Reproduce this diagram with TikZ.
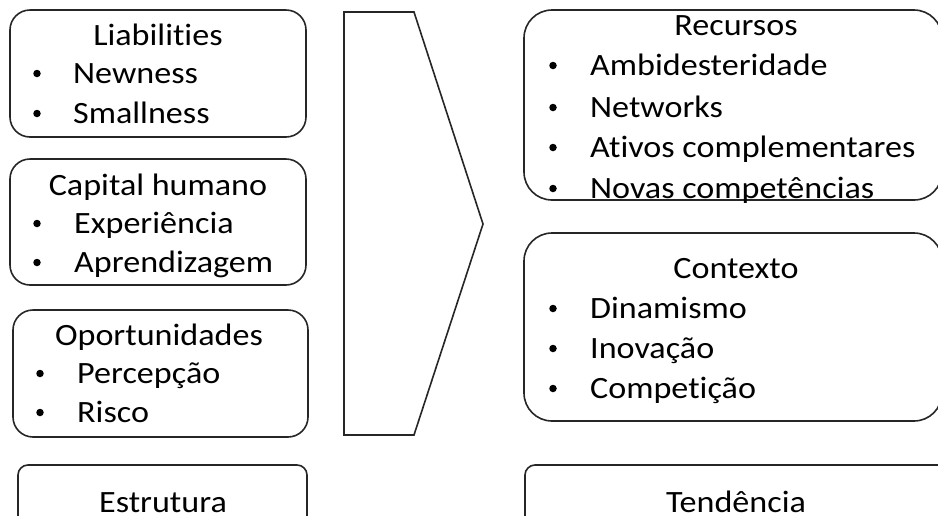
\documentclass[tikz,border=0pt]{standalone}
\usepackage{fontspec}
\setmainfont[Ligatures=NoCommon]{Carlito}
\newcommand\widetext[1]{\scalebox{1.1}[1]{#1}}
\begin{document}
\begin{tikzpicture}[x=1pt,y=-1pt,
  frame/.style={draw=black!85, line width=1.6pt, fill=white},
  boxL/.style={frame, rounded corners=20pt},
  boxR/.style={frame, rounded corners=28pt},
  boxS/.style={frame, rounded corners=10pt},
  txt/.style={inner sep=0pt, font=\fontsize{31}{37}\selectfont, text=black},
  head/.style={txt, anchor=base},
  item/.style={txt, anchor=base west},
  dot/.style={circle, fill=black, inner sep=0pt, minimum size=7.5pt, yshift=9.5pt}
]
\useasboundingbox (0,0) rectangle (938,515);

% rounded frames
\draw[boxL] (10,10) rectangle (306,137);
\draw[boxL] (10,159) rectangle (306,285);
\draw[boxL] (13,310) rectangle (308,437);
\draw[boxS] (18,465) rectangle (307,540);
\draw[boxR] (524,10) rectangle (942,200);
\draw[boxR] (524,233) rectangle (942,421);
\draw[boxS] (525,465) rectangle (950,540);

% central chevron
\draw[frame, line join=miter] (344,12) -- (414,12) -- (483,224) -- (414,435) -- (344,435) -- cycle;

% Liabilities
\node[head] (liab) at (158,45) {\widetext{Liabilities}};
\node[dot] (b11) at (37,83) {};
\node[item] (l11) at (73,83) {\widetext{Newness}};
\node[dot] (b12) at (37,123) {};
\node[item] (l12) at (73,123) {\widetext{Smallness}};

% Capital humano
\node[head] (cap) at (158,195) {\widetext{Capital humano}};
\node[dot] (b21) at (37,233) {};
\node[item] (l21) at (74,233) {\widetext{Experiência}};
\node[dot] (b22) at (37,272) {};
\node[item] (l22) at (74,272) {\widetext{Aprendizagem}};

% Oportunidades
\node[head] (opo) at (159,345) {\widetext{Oportunidades}};
\node[dot] (b31) at (40,383) {};
\node[item] (l31) at (77,383) {\widetext{Percepção}};
\node[dot] (b32) at (40,422) {};
\node[item] (l32) at (77,422) {\widetext{Risco}};

% Estrutura
\node[head] (est) at (163,512) {\widetext{Estrutura}};

% Recursos
\node[head] (rec) at (736,35) {\widetext{Recursos}};
\node[dot] (r1) at (553,75) {};
\node[item] (rt1) at (590,75) {\widetext{Ambidesteridade}};
\node[dot] (r2) at (553,117) {};
\node[item] (rt2) at (590,117) {\widetext{Networks}};
\node[dot] (r3) at (553,157) {};
\node[item] (rt3) at (590,157) {\widetext{Ativos complementares}};
\node[dot] (r4) at (553,198) {};
\node[item] (rt4) at (590,198) {\widetext{Novas competências}};

% Contexto
\node[head] (ctx) at (736,278) {\widetext{Contexto}};
\node[dot] (c1) at (553,318) {};
\node[item] (ct1) at (590,318) {\widetext{Dinamismo}};
\node[dot] (c2) at (553,358) {};
\node[item] (ct2) at (590,358) {\widetext{Inovação}};
\node[dot] (c3) at (553,398) {};
\node[item] (ct3) at (590,398) {\widetext{Competição}};

% Tendência
\node[head] (ten) at (736,512) {\widetext{Tendência}};
\end{tikzpicture}
\end{document}
